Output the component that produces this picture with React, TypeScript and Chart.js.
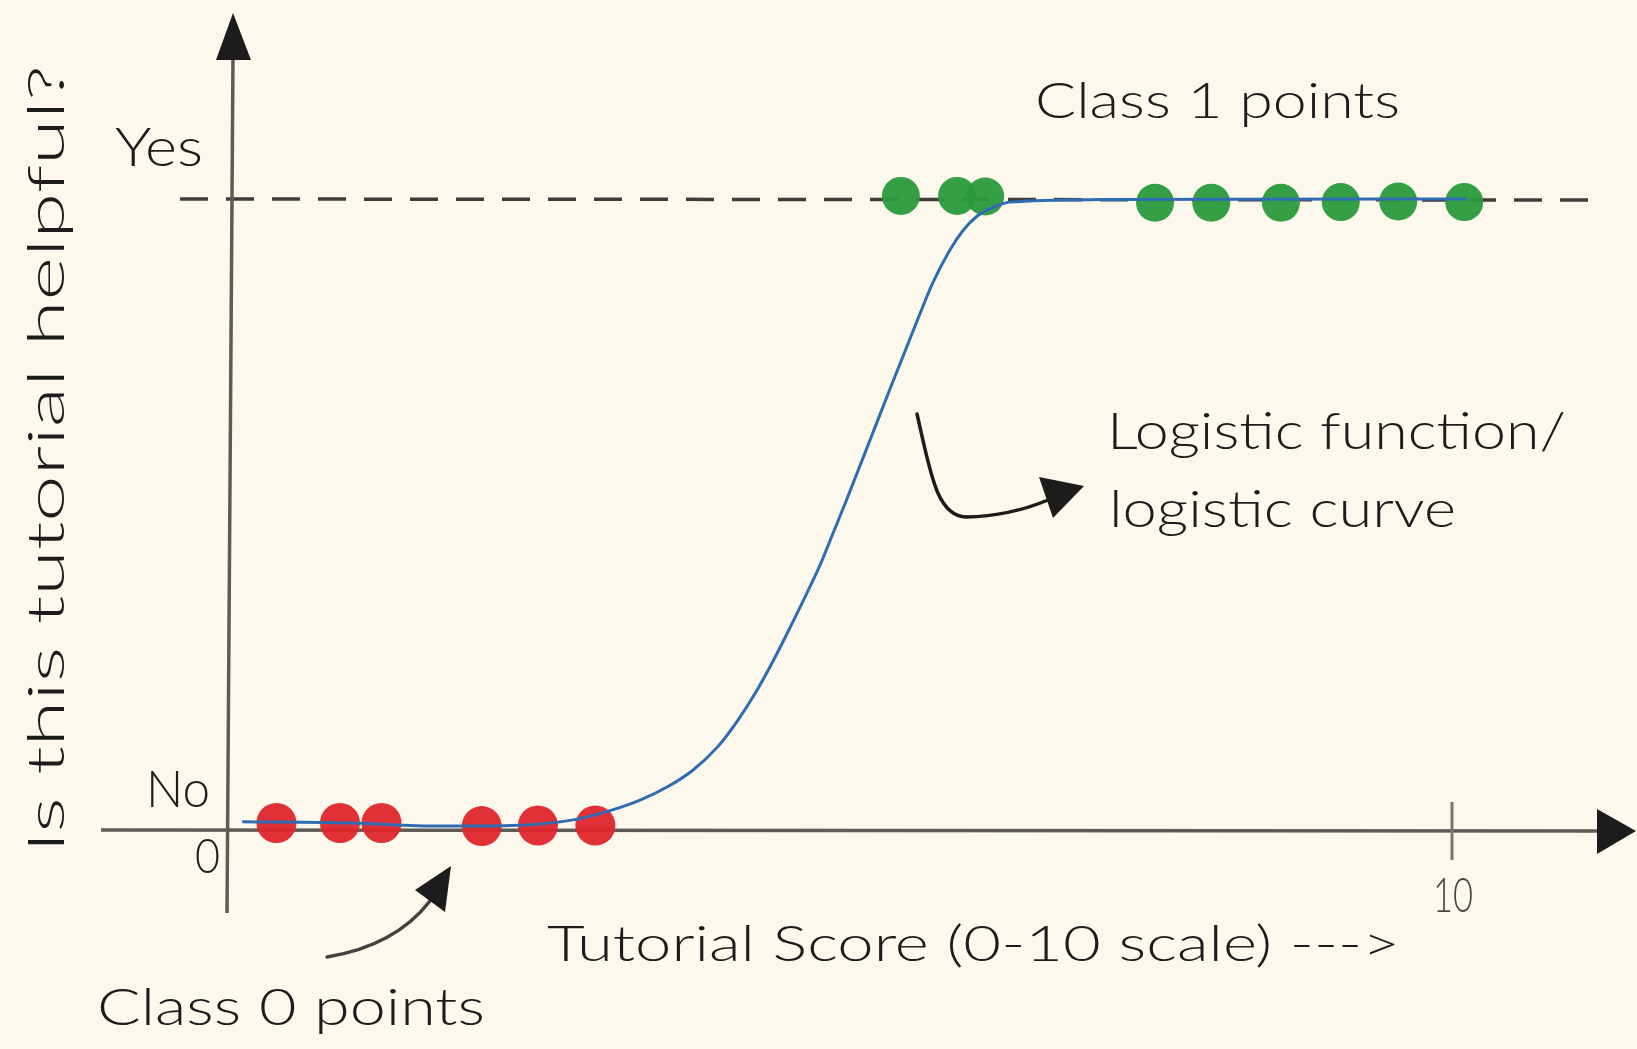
import React, { useEffect, useRef } from "react";
import { Chart, registerables } from "chart.js";

Chart.register(...registerables);

// ---- data ----
const class0Scores = [0.38, 0.9, 1.24, 2.06, 2.52, 2.99];
const class0Values = [0, 0, 0, -0.005, -0.004, -0.004];
const class1Scores = [5.49, 5.95, 6.18, 7.57, 8.03, 8.6, 9.09, 9.56, 10.1];
const class1Values = [1.005, 1.005, 1.004, 0.994, 0.994, 0.994, 0.995, 0.996, 0.995];
const curveScores = [0.1, 1.0, 1.7, 2.3, 2.81, 3.13, 3.36, 3.58, 3.79, 3.99, 4.15, 4.31, 4.44, 4.58, 4.72, 4.83, 4.93, 5.05, 5.26, 5.4, 5.54, 5.65, 5.75, 5.89, 6.0, 6.11, 6.25, 6.38, 7.12, 10.12];
const curveValues = [0.002, 0.0, -0.005, -0.004, 0.005, 0.021, 0.037, 0.058, 0.085, 0.122, 0.163, 0.212, 0.258, 0.312, 0.368, 0.414, 0.462, 0.52, 0.625, 0.695, 0.764, 0.818, 0.865, 0.918, 0.95, 0.972, 0.987, 0.995, 0.999, 1.0];
const xTickLabels = ["0", "10"];
const yTickLabels = ["No", "Yes"];
const xAxisTitle = "Tutorial Score (0-10 scale) --->";
const yAxisTitle = "Is this tutorial helpful?";
const class0Note = "Class 0 points";
const class1Note = "Class 1 points";
const curveNote = ["Logistic function/", "logistic curve"];

const FONT = '"Lato", "DejaVu Sans", sans-serif';
const INK = "#1c1c1c";
const AXIS = "#5e5a55";

function fitText(
  ctx: CanvasRenderingContext2D,
  text: string,
  left: number,
  baseline: number,
  size: number,
  width: number,
  color = INK
) {
  ctx.save();
  ctx.font = `300 ${size}px ${FONT}`;
  const m = ctx.measureText(text).width || 1;
  ctx.translate(left, baseline);
  ctx.scale(width / m, 1);
  ctx.fillStyle = color;
  ctx.textAlign = "left";
  ctx.textBaseline = "alphabetic";
  ctx.fillText(text, 0, 0);
  ctx.restore();
}

function head(
  ctx: CanvasRenderingContext2D,
  pts: [number, number][],
  color = INK
) {
  ctx.beginPath();
  ctx.moveTo(pts[0][0], pts[0][1]);
  for (let i = 1; i < pts.length; i++) ctx.lineTo(pts[i][0], pts[i][1]);
  ctx.closePath();
  ctx.fillStyle = color;
  ctx.fill();
}

const sketchPlugin = {
  id: "sketch",
  beforeDraw(chart: any) {
    const { ctx, width, height } = chart;
    ctx.save();
    ctx.fillStyle = "#fcf9ec";
    ctx.fillRect(0, 0, width, height);
    ctx.restore();
  },
  beforeDatasetsDraw(chart: any) {
    const ctx: CanvasRenderingContext2D = chart.ctx;
    const xs = chart.scales.x;
    const ys = chart.scales.y;
    const x0 = xs.getPixelForValue(0);
    const x10 = xs.getPixelForValue(10);
    const yAxis = ys.getPixelForValue(0) + 7;
    const yYes = ys.getPixelForValue(1);
    ctx.save();
    ctx.lineCap = "butt";
    // dashed "Yes" line
    ctx.strokeStyle = "#3f3d3a";
    ctx.lineWidth = 3.5;
    ctx.setLineDash([28, 18]);
    ctx.beginPath();
    ctx.moveTo(180, yYes);
    ctx.lineTo(1590, yYes + 1);
    ctx.stroke();
    ctx.setLineDash([]);
    // y axis
    ctx.strokeStyle = AXIS;
    ctx.lineWidth = 3.5;
    ctx.beginPath();
    ctx.moveTo(x0 - 3, 913);
    ctx.lineTo(x0 + 3, 55);
    ctx.stroke();
    head(ctx, [[x0 + 3, 13], [x0 - 14, 60], [x0 + 21, 60]]);
    // x axis
    ctx.beginPath();
    ctx.moveTo(101, yAxis);
    ctx.lineTo(1600, yAxis + 1);
    ctx.stroke();
    head(ctx, [[1636, yAxis + 1], [1597, yAxis - 21], [1597, yAxis + 24]]);
    // tick at 10
    ctx.lineWidth = 3;
    ctx.strokeStyle = "#7a7670";
    ctx.beginPath();
    ctx.moveTo(x10, yAxis - 28);
    ctx.lineTo(x10, yAxis + 30);
    ctx.stroke();
    ctx.restore();
  },
  afterDraw(chart: any) {
    const ctx: CanvasRenderingContext2D = chart.ctx;
    ctx.save();
    // tick labels
    fitText(ctx, yTickLabels[1], 115, 166, 54, 88);
    fitText(ctx, yTickLabels[0], 146, 807, 52, 64);
    fitText(ctx, xTickLabels[0], 195, 873, 48, 25);
    fitText(ctx, xTickLabels[1], 1433, 912, 48, 40, "#4a4744");
    // notes
    fitText(ctx, class1Note, 1035, 118, 50, 365);
    fitText(ctx, class0Note, 97, 1025, 52, 388);
    fitText(ctx, curveNote[0], 1107, 449, 52, 459);
    fitText(ctx, curveNote[1], 1109, 527, 52, 347);
    fitText(ctx, xAxisTitle, 547, 961, 50, 853);
    // y axis title (rotated)
    ctx.save();
    ctx.translate(64, 853);
    ctx.rotate(-Math.PI / 2);
    fitText(ctx, yAxisTitle, 0, 0, 52, 788);
    ctx.restore();
    // arrows
    ctx.strokeStyle = INK;
    ctx.lineWidth = 3.5;
    ctx.lineCap = "round";
    ctx.beginPath();
    ctx.moveTo(917, 414);
    ctx.bezierCurveTo(930, 470, 936, 516, 966, 517);
    ctx.quadraticCurveTo(1010, 516, 1048, 500);
    ctx.stroke();
    head(ctx, [[1039, 477], [1084, 486], [1053, 518]]);
    ctx.strokeStyle = "#444240";
    ctx.beginPath();
    ctx.moveTo(327, 957);
    ctx.quadraticCurveTo(395, 946, 430, 901);
    ctx.stroke();
    head(ctx, [[451, 866], [415, 890], [445, 912]]);
    ctx.restore();
  },
};

export default function App() {
  const ref = useRef<HTMLCanvasElement | null>(null);
  useEffect(() => {
    if (!ref.current) return;
    const chart = new Chart(ref.current, {
      type: "scatter",
      data: {
        datasets: [
          {
            label: "Logistic curve",
            data: curveScores.map((x, i) => ({ x, y: curveValues[i] })),
            showLine: true,
            borderColor: "#2f6cb3",
            borderWidth: 3,
            pointRadius: 0,
            cubicInterpolationMode: "monotone",
            clip: false,
            order: 0,
          } as any,
          {
            label: "Class 0",
            data: class0Scores.map((x, i) => ({ x, y: class0Values[i] })),
            backgroundColor: "rgba(222, 38, 44, 0.95)",
            borderWidth: 0,
            pointRadius: 20,
            clip: false,
            order: 1,
          } as any,
          {
            label: "Class 1",
            data: class1Scores.map((x, i) => ({ x, y: class1Values[i] })),
            backgroundColor: "rgba(42, 154, 60, 0.95)",
            borderWidth: 0,
            pointRadius: 19,
            clip: false,
            order: 1,
          } as any,
        ],
      },
      options: {
        animation: false,
        responsive: false,
        devicePixelRatio: 1,
        layout: { padding: { left: 230, right: 185, top: 199, bottom: 226 } },
        scales: {
          x: { type: "linear", min: 0, max: 10, display: false },
          y: { type: "linear", min: 0, max: 1, display: false },
        },
        plugins: { legend: { display: false }, tooltip: { enabled: false } },
        events: [],
      },
      plugins: [sketchPlugin],
    });
    return () => chart.destroy();
  }, []);
  return (
    <div style={{ position: "absolute", left: 0, top: 0, width: 1637, height: 1049 }}>
      <canvas ref={ref} width={1637} height={1049} style={{ display: "block" }} />
    </div>
  );
}
